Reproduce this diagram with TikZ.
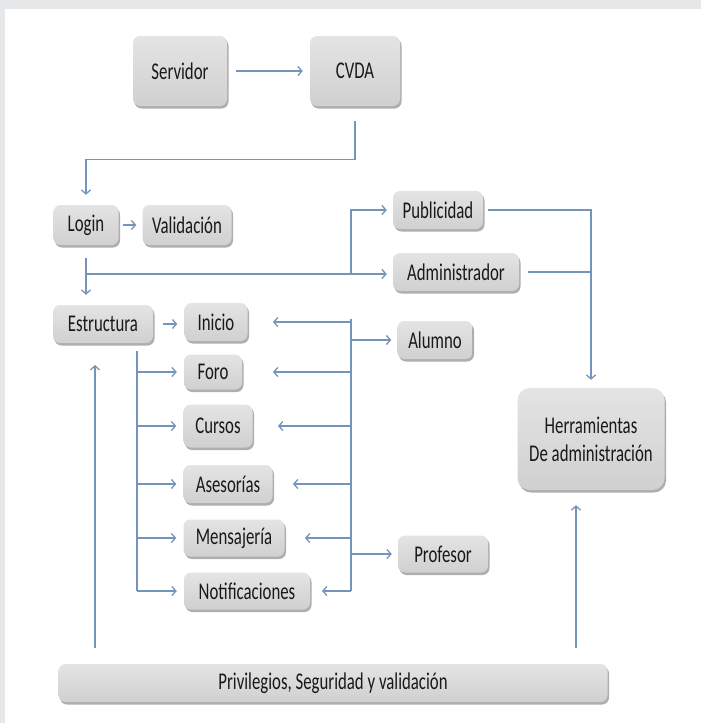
\documentclass[tikz,border=0pt]{standalone}
\usepackage{fontspec}
\setmainfont{Carlito}[FakeStretch=0.7]
\usetikzlibrary{arrows.meta,shadows}
\definecolor{linkc}{RGB}{116,148,186}
\definecolor{boxtop}{RGB}{228,228,228}
\definecolor{boxbot}{RGB}{208,208,208}
\definecolor{framec}{RGB}{230,231,233}

\begin{document}
\begin{tikzpicture}[x=1pt,y=-1pt,
    box/.style={rounded corners=7pt,top color=boxtop,bottom color=boxbot,
      drop shadow={shadow xshift=1.5pt,shadow yshift=-2.5pt,fill=black!45,opacity=.7},
      text=black!90,font=\fontsize{24}{28}\selectfont,inner sep=0pt,align=center},
    link/.style={-{Straight Barb[length=4pt,width=9pt]},draw=linkc,line width=1.3pt},
    wire/.style={draw=linkc,line width=1.3pt}]
        \useasboundingbox (0,0) rectangle (701,723);
        % Frame
        \fill[framec] (0,0) rectangle (701,9);
        \fill[framec] (0,0) rectangle (5,723);
        % Boxes
        \node[box,minimum width=94pt,minimum height=70pt] (serv) at (180,71) {Servidor};
        \node[box,minimum width=90pt,minimum height=70pt] (cvda) at (355,71) {CVDA};
        \node[box,minimum width=65pt,minimum height=40pt] (login) at (86,225) {Login};
        \node[box,minimum width=89pt,minimum height=40pt] (valid) at (187,225) {Validación};
        \node[box,minimum width=90pt,minimum height=38pt] (publi) at (438,210) {Publicidad};
        \node[box,minimum width=126pt,minimum height=38pt] (admin) at (456,272) {Administrador};
        \node[box,minimum width=100pt,minimum height=38pt] (estr) at (103,324) {Estructura};
        \node[box,minimum width=63pt,minimum height=38pt] (inicio) at (216,322) {Inicio};
        \node[box,minimum width=58pt,minimum height=35pt] (foro) at (213,372) {Foro};
        \node[box,minimum width=69pt,minimum height=43pt] (cursos) at (218,426) {Cursos};
        \node[box,minimum width=89pt,minimum height=38pt] (aseso) at (228,484) {Asesorías};
        \node[box,minimum width=101pt,minimum height=37pt] (mensa) at (234,538) {Mensajería};
        \node[box,minimum width=126pt,minimum height=37pt] (notif) at (247,591) {Notificaciones};
        \node[box,minimum width=75pt,minimum height=38pt] (alumno) at (435,340) {Alumno};
        \node[box,minimum width=90pt,minimum height=37pt] (prof) at (443,554) {Profesor};
        \node[box,rounded corners=12pt,minimum width=147pt,minimum height=102pt] (herr) at (591,439) {Herramientas\\De administración};
        \node[box,minimum width=549pt,minimum height=38pt] (priv) at (333,683) {Privilegios, Seguridad y validación};
        % Access
        \draw[link,shorten <=9pt,shorten >=7pt] (serv) -- (cvda);
        \draw[link,shorten <=15pt,shorten >=10pt] (cvda.south) -- ++(0,53) -| (login.north);
        \draw[link,shorten <=4pt,shorten >=6pt] (login) -- (valid);
        \draw[link,shorten <=13pt,shorten >=10pt] (login.south) -- (login.south |- estr.north);
        \coordinate (hub) at (login.south |- 0,274);
        \coordinate (fork) at (351,274);
        \draw[link,shorten >=6pt] (hub) -- (hub -| admin.west);
        \draw[link,shorten >=6pt] (fork) |- (publi.west);
        \draw[link,shorten <=5pt,shorten >=8pt] (publi.east) -| (herr.north);
        \draw[wire,shorten <=9pt] (admin.east) -- (admin.east -| herr.north);
        % Structure
        \draw[link,shorten <=10pt,shorten >=7pt] (estr.east) -- (estr.east -| inicio.west);
        \coordinate (lbus) at (137,351);
        \draw[wire] (lbus) -- (lbus |- notif.west);
        \foreach \n in {foro,cursos,aseso,mensa,notif} {
          \draw[link,shorten >=7pt] (lbus |- \n.west) -- (\n.west);
        }
        % Users
        \coordinate (rbus) at (351,319);
        \draw[wire] (rbus) -- (rbus |- notif.east);
        \foreach \n/\tx in {inicio/273,foro/273,cursos/278,aseso/293,mensa/305,notif/322} {
          \draw[link] (rbus |- \n.east) -- (\tx,0 |- \n.east);
        }
        \draw[link,shorten >=6pt] (rbus |- alumno.west) -- (alumno.west);
        \draw[link,shorten >=6pt] (rbus |- prof.west) -- (prof.west);
        % Privileges
        \coordinate (lup) at (95,365);
        \draw[link,shorten <=16pt] (priv.north -| lup) -- (lup);
        \draw[link,shorten <=16pt,shorten >=15pt] (priv.north -| 576,0) -- (herr.south -| 576,0);
    \end{tikzpicture}
\end{document}
